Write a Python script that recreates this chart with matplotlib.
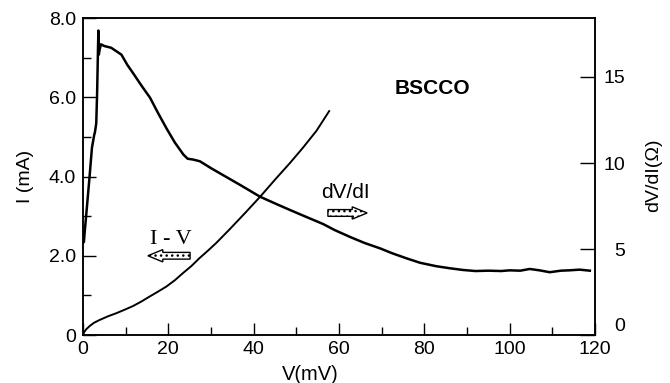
import matplotlib
matplotlib.use("Agg")
import matplotlib.pyplot as plt
from matplotlib.patches import FancyArrow
from matplotlib.ticker import MultipleLocator

plt.rcParams['font.family'] = ['Liberation Sans', 'DejaVu Sans']

# I-V curve (left axis, mA)
iv_v = [0, 0.3, 0.8, 1.6, 2.6, 3.9, 5.8, 7.8, 9.8, 11.7, 13.6, 15.6, 17.5,
        19.5, 21.5, 23.4, 25.4, 27.3, 29.3, 31.2, 34.3, 38, 41.6, 45, 48.5,
        51.5, 54.7, 57.7]
iv_i = [0, 0.08, 0.15, 0.23, 0.31, 0.38, 0.47, 0.55, 0.64, 0.73, 0.84, 0.97,
        1.09, 1.22, 1.38, 1.56, 1.74, 1.94, 2.13, 2.32, 2.66, 3.08, 3.5, 3.92,
        4.34, 4.72, 5.15, 5.65]

# dV/dI curve (right axis, ohm)
dvdi_v = [0, 0.2, 0.4, 0.9, 1.5, 2.1, 2.6, 2.8, 3.1, 3.3, 3.5, 3.6, 3.7, 3.9,
          4.2, 5.0, 6.6, 9.0, 10.4, 11.8, 13.7, 15.7, 17.6, 19.6, 21.5, 23.5,
          24.5, 25.8, 27.4, 30, 32.8, 37, 41.5, 45, 48.5, 52, 56.3, 59, 62.6,
          66, 69.6, 72.5, 75.8, 79, 82.8, 86, 89.1, 92, 95, 98, 100, 102.5,
          104.7, 107, 109.4, 112, 114, 116.4, 118.8]
dvdi_r = [6.0, 5.4, 6.0, 7.4, 9.1, 10.9, 11.6, 11.8, 12.3, 14.0, 16.5, 17.7,
          16.3, 16.6, 16.9, 16.8, 16.7, 16.3, 15.7, 15.2, 14.5, 13.8, 12.9,
          12.0, 11.2, 10.5, 10.25, 10.2, 10.1, 9.7, 9.3, 8.7, 8.04, 7.65, 7.27,
          6.9, 6.45, 6.1, 5.7, 5.35, 5.04, 4.75, 4.46, 4.2, 4.0, 3.88, 3.78,
          3.72, 3.74, 3.72, 3.76, 3.74, 3.84, 3.76, 3.65, 3.74, 3.76, 3.8, 3.74]

x_ticks = [0, 20, 40, 60, 80, 100, 120]
left_ticks = [0, 2, 4, 6, 8]
left_labels = ['0', '2.0', '4.0', '6.0', '8.0']
right_ticks = [0, 5, 10, 15]

fig = plt.figure(figsize=(6.7, 3.83), dpi=100)
ax = fig.add_axes([0.1239, 0.1253, 0.7641, 0.8277])
ax2 = ax.twinx()

ax.plot(iv_v, iv_i, color='black', lw=1.4)
ax2.plot(dvdi_v, dvdi_r, color='black', lw=1.8)

ax.set_xlim(0, 120)
ax.set_ylim(0, 8)
ax2.set_ylim(0, 18.43)

ax.set_xticks(x_ticks)
ax.xaxis.set_minor_locator(MultipleLocator(10))
ax.set_yticks(left_ticks)
ax.set_yticklabels(left_labels)
ax.yaxis.set_minor_locator(MultipleLocator(1))
ax2.set_yticks(right_ticks)
ax2.set_yticklabels([str(t) for t in right_ticks])

ax.tick_params(which='major', direction='in', length=9, width=1, labelsize=14, pad=4)
ax.tick_params(which='minor', direction='in', length=6, width=1)
ax.tick_params(axis='y', pad=5)
ax.tick_params(top=False, right=False, which='both')
ax2.tick_params(direction='in', length=11, width=1, labelsize=14, pad=21.5)

# right-hand labels are right-aligned in the original
for lab in ax2.get_yticklabels():
    lab.set_ha('right')
ax2.get_yticklabels()[0].set_va('bottom')

for a in (ax, ax2):
    for s in a.spines.values():
        s.set_linewidth(1.1)

fig.text(0.463, 0.022, 'V(mV)', fontsize=14.5, ha='center', va='center')
fig.text(0.038, 0.54, 'I (mA)', fontsize=14, rotation=90, ha='center', va='center')
fig.text(0.975, 0.543, 'dV/dI(\u03a9)', fontsize=14, rotation=90, ha='center', va='center')
fig.text(0.645, 0.77, 'BSCCO', fontsize=15, fontweight='bold', ha='center', va='center')

ax.text(20.5, 2.4, 'I - V', fontsize=16, family=['Liberation Serif', 'DejaVu Serif'],
        ha='center', va='center')
ax.text(61.5, 3.6, 'dV/dI', fontsize=15, ha='center', va='center')

# hollow dotted arrows
ax.add_patch(FancyArrow(25.1, 2.0, -9.9, 0, width=0.17, head_width=0.31,
                        head_length=3.5, length_includes_head=True,
                        facecolor='white', edgecolor='black', lw=1, hatch='...'))
ax.add_patch(FancyArrow(57.4, 3.08, 9.2, 0, width=0.17, head_width=0.31,
                        head_length=3.5, length_includes_head=True,
                        facecolor='white', edgecolor='black', lw=1, hatch='...'))

fig.savefig('out.png', dpi=100)
